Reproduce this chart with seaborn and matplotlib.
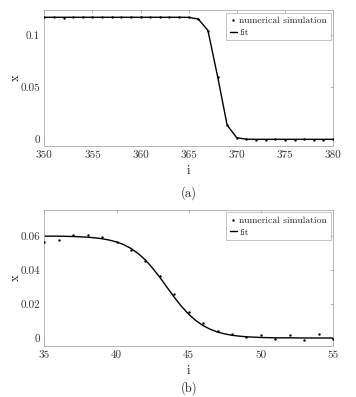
import matplotlib
matplotlib.use("Agg")
import matplotlib.pyplot as plt
import seaborn as sns

# (a) numerical simulation and fit
i_a = list(range(350, 381))
x_a = [0.1172, 0.1173, 0.1168, 0.1171, 0.1172, 0.1169, 0.1171, 0.1172, 0.1169, 0.1171,
       0.1172, 0.1169, 0.1172, 0.1171, 0.1169, 0.1172, 0.1156, 0.1040, 0.0600, 0.0135,
       0.0012, -0.0001, -0.0002, -0.0010, 0.0002, -0.0006, -0.0009, 0.0003, -0.0008, -0.0005, 0.0000]
fit_a = [0.1171, 0.1171, 0.1171, 0.1171, 0.1171, 0.1171, 0.1171, 0.1171, 0.1171, 0.1171,
         0.1171, 0.1171, 0.1171, 0.1171, 0.1171, 0.1170, 0.1154, 0.1045, 0.0605, 0.0135,
         0.0015, 0.0001, 0.0000, 0.0000, 0.0000, 0.0000, 0.0000, 0.0000, 0.0000, 0.0000, 0.0000]

# (b) numerical simulation and fit
i_b = list(range(35, 56))
x_b = [0.0567, 0.0578, 0.0608, 0.0608, 0.0594, 0.0563, 0.0516, 0.0453, 0.0363, 0.0261,
       0.0155, 0.0090, 0.0039, 0.0025, 0.0006, 0.0019, -0.0008, 0.0019, -0.0014, 0.0022, -0.0008]
i_fit_b = [35, 35.5, 36, 36.5, 37, 37.5, 38, 38.5, 39, 39.5, 40, 40.5, 41, 41.5, 42, 42.5,
           43, 43.5, 44, 44.5, 45, 45.5, 46, 46.5, 47, 47.5, 48, 48.5, 49, 49.5, 50, 51, 52, 53, 54, 55]
fit_b = [0.0599, 0.0599, 0.0599, 0.0598, 0.0597, 0.0595, 0.0593, 0.0589, 0.0584, 0.0576,
         0.0565, 0.0549, 0.0527, 0.0497, 0.0459, 0.0411, 0.0357, 0.0298, 0.0240, 0.0186,
         0.0140, 0.0102, 0.0073, 0.0051, 0.0035, 0.0024, 0.0016, 0.0011, 0.0007, 0.0005,
         0.0003, 0.0001, 0.0001, 0.0000, 0.0000, 0.0000]

sns.set_style("white")
plt.rcParams['font.family'] = ['cmr10', 'DejaVu Serif']
plt.rcParams['axes.formatter.use_mathtext'] = True
plt.rcParams['mathtext.fontset'] = 'cm'

fig = plt.figure(figsize=(3.56, 3.97), dpi=100)
ax1 = fig.add_axes([0.1245, 0.632, 0.811, 0.3426])
ax2 = fig.add_axes([0.1245, 0.1285, 0.811, 0.3426])

panels = [
    (ax1, i_a, x_a, i_a, fit_a, (350, 380), (-0.0065, 0.124), [350, 355, 360, 365, 370, 375, 380],
     [0, 0.05, 0.1], ['0', '0.05', '0.1'], '(a)', 0.514),
    (ax2, i_b, x_b, i_fit_b, fit_b, (35, 55), (-0.0047, 0.0753), [35, 40, 45, 50, 55],
     [0, 0.02, 0.04, 0.06], ['0', '0.02', '0.04', '0.06'], '(b)', 0.022),
]

for ax, xi, xv, fi, fv, xlim, ylim, xt, yt, ytl, cap, cap_y in panels:
    sns.scatterplot(x=xi, y=xv, ax=ax, color='black', s=3, marker='o', linewidth=0,
                    label='numerical simulation', zorder=3)
    sns.lineplot(x=fi, y=fv, ax=ax, color='black', linewidth=1.0, label='fit', zorder=2)
    ax.set_xlim(*xlim)
    ax.set_ylim(*ylim)
    ax.set_xticks(xt)
    ax.set_xticklabels([str(t) for t in xt])
    ax.set_yticks(yt)
    ax.set_yticklabels(ytl)
    ax.tick_params(direction='in', length=2.5, width=0.5, color='#999999',
                   labelsize=8, labelcolor='#333333', top=True, right=True, pad=3)
    for sp in ax.spines.values():
        sp.set_color('#aaaaaa')
        sp.set_linewidth(0.6)
    ax.set_xlabel('i', fontsize=9, color='#222222', labelpad=3.5)
    ax.set_ylabel('x', fontsize=9, color='#222222', labelpad=-1)
    leg = ax.legend(loc='upper right', fontsize=7, frameon=True, fancybox=False,
                    borderaxespad=0.25, borderpad=0.35, handlelength=0.7,
                    handletextpad=0.3, labelspacing=0.35, markerscale=1.0)
    leg.get_frame().set_edgecolor('#aaaaaa')
    leg.get_frame().set_linewidth(0.6)
    fig.text(0.53, cap_y, cap, ha='center', va='center', fontsize=9, color='#222222')

fig.savefig('out.png', dpi=100)
